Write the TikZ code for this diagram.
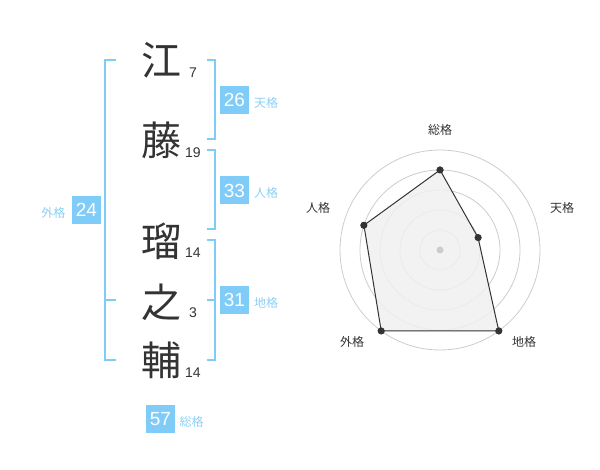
\documentclass[tikz,border=0pt]{standalone}
\usepackage{fontspec}
\setmainfont{Liberation Sans}
\newfontfamily\jpfont{Noto Sans CJK JP}
\usetikzlibrary{calc}
\definecolor{kakublue}{RGB}{128,204,249}
\definecolor{kakutext}{RGB}{140,208,245}
\definecolor{ink}{RGB}{51,51,51}
\definecolor{ringgray}{RGB}{204,204,204}
\definecolor{areagray}{RGB}{240,240,240}

\begin{document}
\begin{tikzpicture}[x=1pt,y=-1pt,
    kanji/.style={text=ink, font=\jpfont\fontsize{40}{40}\selectfont, inner sep=0pt},
    strokes/.style={text=ink, font=\fontsize{14}{14}\selectfont, inner sep=0pt},
    kakubox/.style={fill=kakublue, text=white, font=\fontsize{19}{19}\selectfont, minimum width=29pt, minimum height=28pt, inner sep=0pt},
    kakuname/.style={text=kakutext, font=\jpfont\fontsize{12}{12}\selectfont, inner sep=0pt},
    axisname/.style={text=ink, font=\jpfont\fontsize{12}{12}\selectfont, inner sep=0pt},
    bracket/.style={draw=kakublue, line width=2pt},
    radarring/.style={draw=ringgray, line width=0.8pt},
    dot/.style={circle, fill=ink, minimum size=7pt, inner sep=0pt}]
        \useasboundingbox (0,0) rectangle (600,470);

        % name
        \node[kanji] (k-e) at(161,60){江};
        \node[kanji] (k-to) at(161,140){藤};
        \node[kanji] (k-ru) at(161,241){瑠};
        \node[kanji] (k-no) at(161,302){之};
        \node[kanji] (k-suke) at(161,360){輔};

        \node[strokes] (s-e) at(193,73){7};
        \node[strokes] (s-to) at(193,153){19};
        \node[strokes] (s-ru) at(193,253){14};
        \node[strokes] (s-no) at(193,313){3};
        \node[strokes] (s-suke) at(193,373){14};

        % brackets
        \draw[bracket] (207,60) -- (215,60) -- (215,139) -- (207,139);
        \draw[bracket] (207,150) -- (215,150) -- (215,229) -- (207,229);
        \draw[bracket] (207,240) -- (215,240) -- (215,360) -- (207,360);
        \draw[bracket] (207,300) -- (215,300);
        \draw[bracket] (116,60) -- (105,60) -- (105,360) -- (116,360);
        \draw[bracket] (105,300) -- (116,300);

        \node[kakubox] (ten-box) at(234.5,100){26};
        \node[kakuname] (ten-name) at(266,103){天格};
        \node[kakubox] (jin-box) at(234.5,190.5){33};
        \node[kakuname] (jin-name) at(266,193){人格};
        \node[kakubox] (chi-box) at(234.5,300){31};
        \node[kakuname] (chi-name) at(266,303){地格};
        \node[kakubox] (gai-box) at(86.5,210){24};
        \node[kakuname] (gai-name) at(53.5,213){外格};
        \node[kakubox] (sou-box) at(160.5,419){57};
        \node[kakuname] (sou-name) at(191.5,422){総格};

        % radar
        \coordinate (center) at(440,250);
        \foreach \r in {20,40,60,80,100}
            \draw[radarring] (center) circle[radius=\r pt];

        \node[dot] (p-sou) at($(center)+(-90:80)$){};
        \node[dot] (p-ten) at($(center)+(-18:40)$){};
        \node[dot] (p-chi) at($(center)+(54:100)$){};
        \node[dot] (p-gai) at($(center)+(126:100)$){};
        \node[dot] (p-jin) at($(center)+(198:80)$){};
        \fill[areagray, opacity=0.85] (p-sou.center) -- (p-ten.center) -- (p-chi.center) -- (p-gai.center) -- (p-jin.center) -- cycle;
        \draw[ink, line width=1pt] (p-sou.center) -- (p-ten.center) -- (p-chi.center) -- (p-gai.center) -- (p-jin.center) -- cycle;
        \node[dot] at(p-sou){};
        \node[dot] at(p-ten){};
        \node[dot] at(p-chi){};
        \node[dot] at(p-gai){};
        \node[dot] at(p-jin){};
        \node[dot, fill=ringgray] (p-center) at(center){};

        \node[axisname] (a-sou) at(440,130){総格};
        \node[axisname] (a-ten) at(562,208){天格};
        \node[axisname] (a-chi) at(524,342){地格};
        \node[axisname] (a-gai) at(352,342){外格};
        \node[axisname] (a-jin) at(318,208){人格};

      \end{tikzpicture}
\end{document}
